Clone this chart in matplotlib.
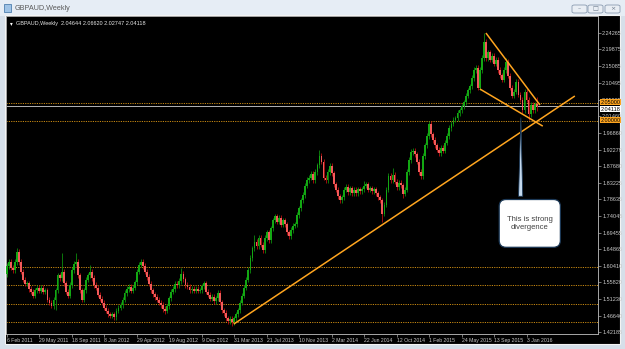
import matplotlib.pyplot as plt
from matplotlib.patches import Rectangle, FancyBboxPatch
from matplotlib.transforms import blended_transform_factory

W, H = 625, 349

# weekly GBPAUD candles, first week = 6 Feb 2011 (open of next week = close of previous)
first_open = 1.580
closes = [
    1.603, 1.614, 1.598, 1.592, 1.614, 1.642, 1.614, 1.587, 1.565, 1.554,
    1.556, 1.540, 1.532, 1.521, 1.537, 1.543, 1.535, 1.543, 1.532, 1.537,
    1.510, 1.502, 1.493, 1.510, 1.537, 1.578, 1.570, 1.587, 1.556, 1.532,
    1.521, 1.551, 1.592, 1.609, 1.614, 1.578, 1.537, 1.510, 1.537, 1.565,
    1.578, 1.587, 1.570, 1.551, 1.543, 1.524, 1.513, 1.502, 1.488, 1.480,
    1.471, 1.466, 1.471, 1.463, 1.480, 1.488, 1.496, 1.510, 1.529, 1.540,
    1.546, 1.535, 1.543, 1.559, 1.587, 1.606, 1.614, 1.603, 1.587, 1.573,
    1.554, 1.537, 1.526, 1.518, 1.510, 1.502, 1.496, 1.485, 1.480, 1.493,
    1.515, 1.532, 1.540, 1.554, 1.551, 1.562, 1.581, 1.567, 1.551, 1.546,
    1.537, 1.540, 1.535, 1.540, 1.535, 1.537, 1.548, 1.556, 1.532, 1.524,
    1.513, 1.518, 1.507, 1.515, 1.529, 1.504, 1.482, 1.474, 1.460, 1.452,
    1.458, 1.449, 1.460, 1.471, 1.482, 1.502, 1.521, 1.543, 1.565, 1.592,
    1.625, 1.652, 1.669, 1.658, 1.680, 1.661, 1.647, 1.680, 1.696, 1.674,
    1.707, 1.729, 1.740, 1.724, 1.735, 1.716, 1.729, 1.718, 1.696, 1.685,
    1.702, 1.713, 1.718, 1.743, 1.762, 1.784, 1.798, 1.823, 1.839, 1.845,
    1.856, 1.839, 1.861, 1.880, 1.905, 1.889, 1.845, 1.839, 1.861, 1.878,
    1.858, 1.828, 1.812, 1.795, 1.784, 1.792, 1.812, 1.820, 1.806, 1.817,
    1.803, 1.812, 1.803, 1.814, 1.809, 1.814, 1.823, 1.828, 1.812, 1.817,
    1.809, 1.814, 1.803, 1.792, 1.784, 1.746, 1.771, 1.812, 1.850, 1.839,
    1.853, 1.834, 1.820, 1.831, 1.825, 1.801, 1.812, 1.861, 1.894, 1.916,
    1.919, 1.910, 1.889, 1.861, 1.850, 1.905, 1.935, 1.960, 1.993, 1.965,
    1.949, 1.935, 1.922, 1.913, 1.927, 1.919, 1.941, 1.960, 1.982, 1.993,
    2.004, 2.009, 2.023, 2.031, 2.042, 2.053, 2.070, 2.086, 2.097, 2.119,
    2.141, 2.147, 2.092, 2.141, 2.174, 2.218, 2.174, 2.190, 2.169, 2.180,
    2.158, 2.169, 2.141, 2.127, 2.114, 2.141, 2.163, 2.125, 2.092, 2.070,
    2.081, 2.108, 2.073, 2.059, 2.031, 2.081, 2.059, 2.020, 2.045, 2.031,
    2.04644, 2.04118,
]
# long wicks that stick out (week index -> price)
wick_highs = {5: 1.653, 27: 1.639, 34: 1.639, 41: 1.606, 86: 1.598, 122: 1.688,
              154: 1.922, 176: 1.836, 190: 1.872, 235: 2.2427, 246: 2.174, 261: 2.0662}
wick_lows = {22: 1.488, 24: 1.482, 78: 1.471, 111: 1.438, 185: 1.724, 195: 1.790,
             232: 2.086, 257: 2.004, 261: 2.02747}
short_wick = 0.007

x_labels = ['6 Feb 2011', '29 May 2011', '18 Sep 2011', '8 Jan 2012', '29 Apr 2012',
            '19 Aug 2012', '9 Dec 2012', '31 Mar 2013', '21 Jul 2013', '10 Nov 2013',
            '2 Mar 2014', '22 Jun 2014', '12 Oct 2014', '1 Feb 2015', '24 May 2015',
            '13 Sep 2015', '3 Jan 2016']
x_label_step = 16

y_labels = ['2.24265', '2.19875', '2.15085', '2.10495', '2.05905', '2.01460', '1.96860',
            '1.92279', '1.87680', '1.83225', '1.78635', '1.74045', '1.69455', '1.64865',
            '1.60410', '1.55820', '1.51230', '1.46640', '1.42185']

h_levels = [2.05, 2.00, 1.60, 1.55, 1.50, 1.45]
h_level_tags = ['2.05000', '2.00000']
bid = 2.04118
ohlc_text = 'GBPAUD,Weekly  2.04644 2.06620 2.02747 2.04118'

# trend lines: (week, price) -> (week, price)
trend_lines = [(111.8, 1.4437, 279.8, 2.0697),
               (236.0, 2.2426, 262.6, 2.0450),
               (233.0, 2.0890, 264.0, 1.9870)]

callout_text = 'This is strong\ndivergence'
callout_point = (253.2, 2.0175)
callout_box = (257.6, 1.720)

small = 'Liberation Sans'


def px(x, y):
    return x / W, 1 - y / H


fig = plt.figure(figsize=(W / 100, H / 100), dpi=100)
fig.patch.set_facecolor('#d6dfe9')

# window chrome (below the axes)
fig.patches.append(Rectangle(px(0, 16), 1, 16 / H, transform=fig.transFigure,
                             facecolor='#e6edf5', edgecolor='none', zorder=-3))
fig.patches.append(Rectangle(px(5, 344), 615 / W, 329 / H, transform=fig.transFigure,
                             facecolor='#000000', edgecolor='#f4f4f4', lw=0.8, zorder=-2))
fig.patches.append(Rectangle(px(4, 12), 7 / W, 8 / H, transform=fig.transFigure,
                             facecolor='#9fc3e6', edgecolor='#4f7fae', lw=0.6, zorder=-1))
fig.text(*px(15, 8), 'GBPAUD,Weekly', fontsize=5.2, color='#5a5a5a', va='center',
         family=small)
for (bx, bw, sym) in [(572, 15, '–'), (588, 15, '□'), (605, 15, '×')]:
    fig.patches.append(FancyBboxPatch(px(bx, 13), bw / W, 8 / H, transform=fig.transFigure,
                                      boxstyle='round,pad=0,rounding_size=0.004',
                                      facecolor='#e9eef4', edgecolor='#8a9bb0', lw=0.6,
                                      zorder=-1))
    fig.text(*px(bx + bw / 2, 9), sym, fontsize=4.5, color='#6b7a8c', ha='center',
             va='center')

ax = fig.add_axes([6 / W, 1 - 334 / H, 592 / W, 318 / H])
ax.set_facecolor('#000000')
for s in ax.spines.values():
    s.set_color('#a8a8a8')
    s.set_linewidth(0.7)

opens = [first_open] + closes[:-1]
idx = list(range(len(closes)))
highs, lows, bottoms, heights, body_cols, wick_cols = [], [], [], [], [], []
for i, (o, c) in enumerate(zip(opens, closes)):
    highs.append(wick_highs.get(i, max(o, c) + short_wick))
    lows.append(wick_lows.get(i, min(o, c) - short_wick))
    bottoms.append(min(o, c))
    heights.append(max(abs(c - o), 0.002))
    if c >= o:
        body_cols.append('#13a813')
        wick_cols.append('#0c8c0c')
    else:
        body_cols.append('#f25a5a')
        wick_cols.append('#b81010')

ax.vlines(idx, lows, highs, colors=wick_cols, lw=0.6, zorder=3)
ax.bar(idx, heights, bottom=bottoms, width=0.9, color=body_cols, linewidth=0, zorder=4)

for lv in h_levels:
    ax.axhline(lv, color='#c98a12', lw=0.7, ls=(0, (1.2, 1.2)), zorder=2)
ax.axhline(bid, color='#b4b4b4', lw=0.7, zorder=2)

for (x0, y0, x1, y1) in trend_lines:
    ax.plot([x0, x1], [y0, y1], color='#ffa51f', lw=1.1, zorder=5, solid_capstyle='butt')

ax.set_xlim(-0.4, 291.2)
ax.set_ylim(1.4164, 2.2893)

ax.yaxis.tick_right()
ax.set_yticks([float(v) for v in y_labels])
ax.set_yticklabels(y_labels)
ax.set_xticks([k * x_label_step for k in range(len(x_labels))])
ax.set_xticklabels(x_labels)
ax.tick_params(axis='both', length=2, width=0.5, color='#a8a8a8', labelsize=4,
               labelcolor='#c8c8c8', pad=1)
ax.tick_params(axis='x', labelsize=3.7)
for lbl in ax.get_xticklabels():
    lbl.set_ha('left')
    lbl.set_family(small)
for lbl in ax.get_yticklabels():
    lbl.set_family(small)

tr = blended_transform_factory(ax.transAxes, ax.transData)
for lv, tag in zip(h_levels[:2], h_level_tags):
    ax.text(1.004, lv + 0.003, tag, transform=tr, fontsize=4, color='#000000', va='center',
            ha='left', family=small,
            bbox=dict(boxstyle='square,pad=0.1', fc='#ffa51f', ec='none'),
            clip_on=False, zorder=6)
ax.text(1.004, bid - 0.008, '%.5f' % bid, transform=tr, fontsize=4, color='#000000',
        va='center', ha='left', family=small,
        bbox=dict(boxstyle='square,pad=0.1', fc='#ffffff', ec='none'),
        clip_on=False, zorder=7)

ax.text(0.006, 0.985, '▾', transform=ax.transAxes, fontsize=4, color='#ffffff', va='top')
ax.text(0.017, 0.983, ohlc_text, transform=ax.transAxes, fontsize=4, color='#e6e6e6',
        va='top', family=small)

ax.annotate('\n' + callout_text + '\n', xy=callout_point, xytext=callout_box,
            fontsize=5.5, color='#404040', ha='center', va='center',
            family=small, linespacing=1.3, zorder=8,
            bbox=dict(boxstyle='round,pad=1.0,rounding_size=0.9', fc='#ffffff',
                      ec='#1b3856', lw=0.9),
            arrowprops=dict(arrowstyle='wedge,tail_width=0.55,shrink_factor=0.5',
                            fc='#c4d9ee', ec='#1b3856', lw=0.6, relpos=(0.3, 1.0)))

fig.savefig('out.png', dpi=100, facecolor=fig.get_facecolor())
